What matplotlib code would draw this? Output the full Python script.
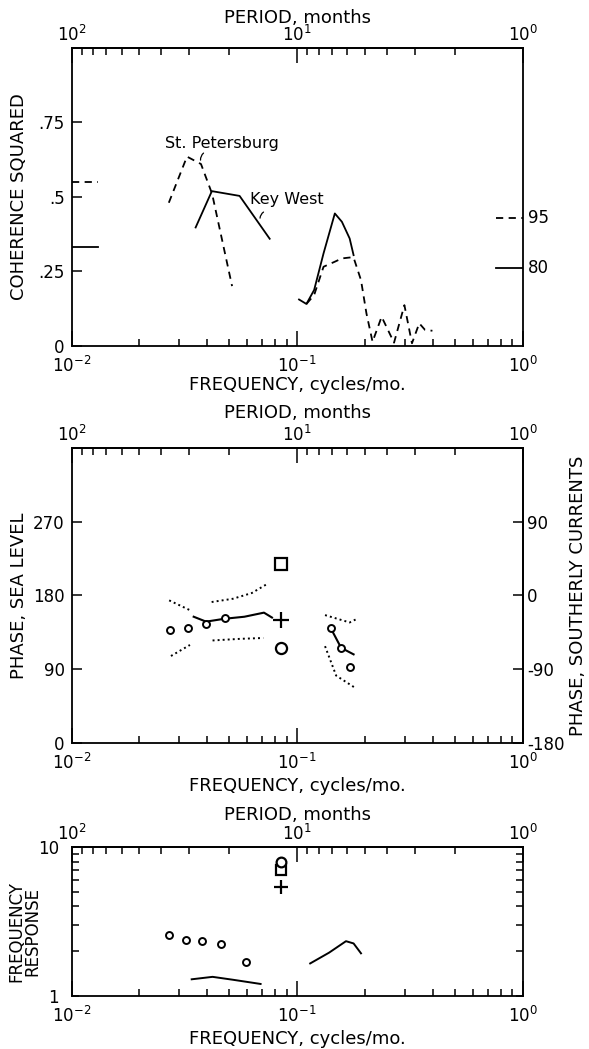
import numpy as np
import matplotlib
matplotlib.use('Agg')
import matplotlib.pyplot as plt
from matplotlib.ticker import NullFormatter

plt.rcParams['font.family'] = ['DejaVu Sans']
plt.rcParams['mathtext.fontset'] = 'dejavusans'

nan = np.nan

# 上圖: coherence squared
stp_freq = [0.027, 0.0325, 0.0375, 0.042, 0.0515]
stp_coh = [0.48, 0.635, 0.61, 0.51, 0.20]
kw_freq = [0.0355, 0.0419, 0.0556, 0.0756]
kw_coh = [0.397, 0.519, 0.503, 0.359]
kw_hi_freq = [0.102, 0.110, 0.119, 0.131, 0.147, 0.158, 0.171, 0.178]
kw_hi_coh = [0.155, 0.14, 0.187, 0.31, 0.444, 0.416, 0.36, 0.304]
stp_hi_freq = [0.110, 0.119, 0.131, 0.147, 0.158, 0.171, 0.178, 0.192, 0.203,
               0.216, 0.237, 0.269, 0.299, 0.323, 0.348, 0.369, 0.398]
stp_hi_coh = [0.14, 0.17, 0.265, 0.282, 0.293, 0.296, 0.296, 0.22, 0.108,
              0.013, 0.097, 0.01, 0.136, 0.008, 0.075, 0.053, 0.05]
sig_names = ['95', '80']
sig_low = [0.55, 0.33]     # left edge
sig_high = [0.43, 0.26]    # right edge

# 中圖: phase
ph_circ_freq = [0.0274, 0.0329, 0.0395, 0.0477, 0.141, 0.1567, 0.171]
ph_circ_deg = [138, 140.5, 145.5, 153, 140, 116, 93]
ph_line_freq = [0.0348, 0.0395, 0.0476, 0.0584, 0.0713, 0.0774, nan, 0.141, 0.1567, 0.178]
ph_line_deg = [154, 148, 151.5, 154, 159, 153, nan, 140, 116, 108]
ph_up_freq = [0.0271, 0.0335, nan, 0.0418, 0.052, 0.063, 0.0736, nan, 0.133, 0.171, 0.183]
ph_up_deg = [174, 162, nan, 172, 176, 183, 194, nan, 156, 147, 151]
ph_lo_freq = [0.0276, 0.0335, nan, 0.0422, 0.0562, 0.0708, nan, 0.133, 0.149, 0.181]
ph_lo_deg = [106, 119.5, nan, 125, 127, 128, nan, 118, 82, 67]
annual_freq = 0.0848
ph_square, ph_plus, ph_big_circ = 219, 150, 116

# 下圖: frequency response
resp_circ_freq = [0.0271, 0.0322, 0.0379, 0.0461, 0.0596]
resp_circ = [2.56, 2.39, 2.33, 2.22, 1.69]
resp_line_freq = [0.0341, 0.0422, 0.0521, 0.0689, nan, 0.1143, 0.1386, 0.1647, 0.178, 0.192]
resp_line = [1.29, 1.34, 1.28, 1.2, nan, 1.65, 1.95, 2.33, 2.25, 1.93]
resp_circle, resp_square, resp_plus = 8.0, 7.0, 5.4

period_minor = [90, 80, 70, 60, 50, 40, 30, 20, 9, 8, 7, 6, 5, 4, 3, 2]

LW = 1.3
LABEL_FS = 13
TICK_FS = 12


def freq_axes(ax, xlab_y, period_y):
    ax.set_xscale('log')
    ax.set_xlim(0.01, 1)
    ax.set_xticks([0.01, 0.1, 1], [r'$10^{-2}$', r'$10^{-1}$', r'$10^{0}$'])
    ax.xaxis.set_minor_formatter(NullFormatter())
    ax.tick_params(axis='x', which='major', direction='in', length=11, width=1.1,
                   labelsize=TICK_FS, pad=7.5, top=False)
    ax.tick_params(axis='x', which='minor', direction='in', length=5, width=1.1, top=False)
    ax.set_xlabel('FREQUENCY, cycles/mo.', fontsize=LABEL_FS)
    ax.xaxis.set_label_coords(0.5, xlab_y)
    top = ax.secondary_xaxis('top')
    top.set_xticks([0.01, 0.1, 1], [r'$10^{2}$', r'$10^{1}$', r'$10^{0}$'])
    top.set_xticks(1 / np.array(period_minor), minor=True)
    top.xaxis.set_minor_formatter(NullFormatter())
    top.tick_params(which='major', direction='in', length=11, width=1.1,
                    labelsize=TICK_FS, pad=2)
    top.tick_params(which='minor', direction='in', length=5, width=1.1)
    top.spines['top'].set_linewidth(LW)
    ax.text(0.5, period_y, 'PERIOD, months', transform=ax.transAxes,
            ha='center', va='bottom', fontsize=LABEL_FS)
    for s in ax.spines.values():
        s.set_linewidth(LW)


fig = plt.figure(figsize=(5.89, 10.49), dpi=100)

# ---- 上圖
ax1 = fig.add_axes([0.1214, 0.6705, 0.766, 0.2838])
freq_axes(ax1, -0.102, 1.07)
ax1.set_ylim(0, 1)
ax1.set_yticks([0, 0.25, 0.5, 0.75], ['0', '.25', '.5', '.75'])
ax1.tick_params(axis='y', direction='in', length=7, width=1.1, labelsize=TICK_FS, pad=5)
ax1.set_ylabel('COHERENCE SQUARED', fontsize=LABEL_FS)
ax1.yaxis.set_label_coords(-0.097, 0.5)

dash = (0, (4, 3))
ax1.plot(stp_freq, stp_coh, color='black', lw=LW, ls=dash)
ax1.plot(stp_hi_freq, stp_hi_coh, color='black', lw=LW, ls=dash)
ax1.plot(kw_freq, kw_coh, color='black', lw=LW)
ax1.plot(kw_hi_freq, kw_hi_coh, color='black', lw=LW)

ytr = ax1.get_yaxis_transform()
for i, name in enumerate(sig_names):
    st = dash if i == 0 else '-'
    ax1.plot([0, 0.058], [sig_low[i], sig_low[i]], transform=ytr, color='black', lw=LW, ls=st)
    ax1.plot([0.94, 1], [sig_high[i], sig_high[i]], transform=ytr, color='black', lw=LW, ls=st)
    ax1.text(1.012, sig_high[i], name, transform=ytr, ha='left', va='center', fontsize=TICK_FS)

ax1.text(0.026, 0.68, 'St. Petersburg', ha='left', va='center', fontsize=11.5)
ax1.annotate('', xy=(0.0375, 0.614), xytext=(0.0394, 0.652),
             arrowprops=dict(arrowstyle='-', lw=0.9, connectionstyle='arc3,rad=0.4'))
ax1.text(0.0618, 0.492, 'Key West', ha='left', va='center', fontsize=11.5)
ax1.annotate('', xy=(0.0686, 0.419), xytext=(0.0728, 0.453),
             arrowprops=dict(arrowstyle='-', lw=0.9, connectionstyle='arc3,rad=0.4'))

# ---- 中圖
ax2 = fig.add_axes([0.1214, 0.2920, 0.766, 0.2807])
freq_axes(ax2, -0.117, 1.09)
ax2.set_ylim(0, 360)
ax2.set_yticks([0, 90, 180, 270], ['0', '90', '180', '270'])
ax2.tick_params(axis='y', direction='in', length=7, width=1.1, labelsize=TICK_FS, pad=5)
ax2.set_ylabel('PHASE, SEA LEVEL', fontsize=LABEL_FS)
ax2.yaxis.set_label_coords(-0.097, 0.5)
right = ax2.secondary_yaxis('right', functions=(lambda d: d - 180, lambda d: d + 180))
right.set_yticks([-180, -90, 0, 90], ['-180', '-90', '0', '90'])
right.tick_params(direction='in', length=7, width=1.1, labelsize=TICK_FS, pad=3)
right.spines['right'].set_linewidth(LW)
ax2.text(1.1226, 0.5, 'PHASE, SOUTHERLY CURRENTS', transform=ax2.transAxes,
         rotation=90, ha='center', va='center', fontsize=LABEL_FS)

dots = (0, (1, 1.6))
ax2.plot(ph_line_freq, ph_line_deg, color='black', lw=1.5)
ax2.plot(ph_up_freq, ph_up_deg, color='black', lw=1.4, ls=dots)
ax2.plot(ph_lo_freq, ph_lo_deg, color='black', lw=1.4, ls=dots)
ax2.plot(ph_circ_freq, ph_circ_deg, 'o', ms=5, mfc='white', mec='black', mew=1.4)
ax2.plot([annual_freq], [ph_square], 's', ms=8, mfc='white', mec='black', mew=1.6)
ax2.plot([annual_freq], [ph_plus], '+', ms=11, mec='black', mew=1.6)
ax2.plot([annual_freq], [ph_big_circ], 'o', ms=8, mfc='white', mec='black', mew=1.6)

# ---- 下圖
ax3 = fig.add_axes([0.1214, 0.0508, 0.766, 0.1415])
freq_axes(ax3, -0.23, 1.16)
ax3.set_yscale('log')
ax3.set_ylim(1, 10)
ax3.set_yticks([1, 10], ['1', '10'])
ax3.yaxis.set_minor_formatter(NullFormatter())
ax3.tick_params(axis='y', which='both', direction='in', length=5, width=1.1,
                labelsize=TICK_FS, right=True, pad=9)
ax3.set_ylabel('FREQUENCY\nRESPONSE', fontsize=12, linespacing=0.9)
ax3.yaxis.set_label_coords(-0.066, 0.43)

ax3.plot(resp_line_freq, resp_line, color='black', lw=1.4)
ax3.plot(resp_circ_freq, resp_circ, 'o', ms=5, mfc='white', mec='black', mew=1.4)
ax3.plot([annual_freq], [resp_square], 's', ms=7, mfc='white', mec='black', mew=1.6)
ax3.plot([annual_freq], [resp_circle], 'o', ms=7, mfc='white', mec='black', mew=1.6)
ax3.plot([annual_freq], [resp_plus], '+', ms=10, mec='black', mew=1.6)

plt.savefig('out.png', dpi=100)
